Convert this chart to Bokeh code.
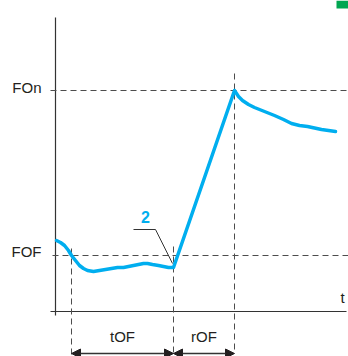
from bokeh.plotting import figure
from bokeh.models import Range1d, Arrow, NormalHead
from bokeh.core.properties import value
from bokeh.embed import file_html
from bokeh.resources import INLINE

# ---- data (schematic units) ----
t_curve = [1, 5, 9, 13, 16, 20, 24, 28, 32, 38, 44, 50, 56, 62, 68, 73,
           78, 83, 88, 92, 97, 103, 108, 113, 118,
           179, 183, 187, 193, 199, 209, 219, 228, 236, 244, 252, 266, 280]
f_curve = [71, 69, 66, 61, 56, 51, 46, 43, 41, 40, 41, 42, 43, 44, 44, 45,
           46, 47, 48, 48, 47, 46, 45, 44, 44,
           221, 215, 211, 207, 204, 200, 196, 192, 188, 186, 185, 182, 180]
FOF = 56
FOn = 221
t_start = 16      # curve crosses FOF
t_tof_end = 118   # end of tOF
t_rof_end = 179   # end of rOF
level_labels = ["FOF", "FOn"]
interval_labels = ["tOF", "rOF"]
point_label = "2"
time_label = "t"

TXT = "#231f20"
BLUE = "#00aeef"
DASH = "#4d4d4d"
FONT = value("Liberation Sans")

p = figure(width=348, height=356, output_backend="svg", toolbar_location=None,
           x_axis_type=None, y_axis_type=None, min_border=0,
           x_range=Range1d(-55, 293), y_range=Range1d(-45, 311))
p.outline_line_color = None
p.grid.visible = False
p.background_fill_color = "white"

# corner tag
p.quad(left=[281], right=[293], bottom=[303], top=[311],
       fill_color="#00a651", line_color=None)

# axes
p.segment(x0=[0, -5], y0=[-4, 0], x1=[0, 291], y1=[294, 0],
          line_color="#333333", line_width=1.2)

# horizontal dashed reference levels
p.segment(x0=[-3, -5], y0=[FOF, FOn], x1=[293, 293], y1=[FOF, FOn],
          line_color=DASH, line_width=1, line_dash="6 4")

# vertical dashed markers
p.segment(x0=[t_start, t_tof_end, t_rof_end],
          y0=[FOF + 7, FOF + 9, FOn + 17],
          x1=[t_start, t_tof_end, t_rof_end],
          y1=[-45, -45, -42],
          line_color=DASH, line_width=1, line_dash="6 4")

# curve
p.line(t_curve, f_curve, line_color=BLUE, line_width=3.5,
       line_join="round", line_cap="round")

# leader for label 2
p.line([t_tof_end - 40, t_tof_end - 18, t_tof_end - 1],
       [FOF + 26, FOF + 26, f_curve[24] + 4],
       line_color="#333333", line_width=1)

# level labels
p.text(x=[0, 0], y=[FOF, FOn], text=level_labels, x_offset=-14, y_offset=[-4, -3],
       text_align="right", text_baseline="middle", text_font=FONT,
       text_font_size="15px", text_color=TXT)

# time label
p.text(x=[285], y=[0], text=[time_label], y_offset=-6, text_align="left",
       text_baseline="bottom", text_font=FONT, text_font_size="15px", text_color=TXT)

# point label "2"
p.text(x=[t_tof_end - 28], y=[FOF + 39], text=[point_label], text_align="center",
       text_baseline="middle", text_font=FONT, text_font_size="16px",
       text_font_style="bold", text_color=BLUE)

# interval arrows
arrow_y = -42
for a, b in [(t_start, t_tof_end), (t_tof_end, t_rof_end)]:
    p.add_layout(Arrow(x_start=a, y_start=arrow_y, x_end=b, y_end=arrow_y,
                       line_color="#333333", line_width=1.5,
                       start=NormalHead(size=9, fill_color="#231f20", line_color="#231f20", line_width=1),
                       end=NormalHead(size=9, fill_color="#231f20", line_color="#231f20", line_width=1)))

p.text(x=[(t_start + t_tof_end) / 2, (t_tof_end + t_rof_end) / 2], y=[arrow_y, arrow_y],
       text=interval_labels, y_offset=-17, text_align="center", text_baseline="middle",
       text_font=FONT, text_font_size="15px", text_color=TXT)

open("out.html", "w").write(file_html(p, INLINE))
